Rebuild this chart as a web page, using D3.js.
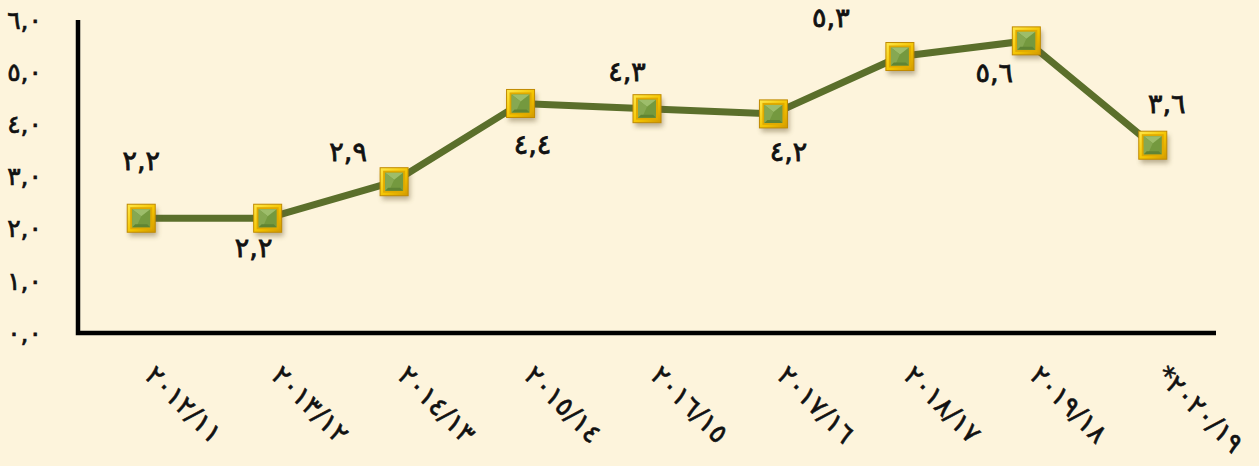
<!DOCTYPE html>
<html>
<head>
<meta charset="utf-8">
<script src="https://cdn.jsdelivr.net/npm/d3@7"></script>
<style>
  html, body { margin: 0; padding: 0; background: #fdf4dc; }
  svg { display: block; }
  text { font-family: "DejaVu Sans", sans-serif; direction: ltr; }
</style>
</head>
<body>
<div id="app"></div>
<script>
const years = ["٢٠١٢/١١", "٢٠١٣/١٢", "٢٠١٤/١٣", "٢٠١٥/١٤", "٢٠١٦/١٥", "٢٠١٧/١٦", "٢٠١٨/١٧", "٢٠١٩/١٨", "*٢٠٢٠/١٩"]
const values = [2.2, 2.2, 2.9, 4.4, 4.3, 4.2, 5.3, 5.6, 3.6]
const yTicks = [0, 1, 2, 3, 4, 5, 6]

// where each value label sits relative to its marker
const labelOffsets = [[0, -58], [-14, 29], [-46, -30], [12, 41], [-20, -37], [15, 38], [-69, -39], [-32, 32], [14, -42]]

const width = 1259, height = 466

const arabicDigits = "٠١٢٣٤٥٦٧٨٩"
const toArabic = s => s.replace(/[0-9]/g, d => arabicDigits[+d]).replace(".", ",")

const x = d3.scaleBand().domain(years).range([78, 1216])
const y = d3.scaleLinear().domain([0, 6]).range([333, 20])

const svg = d3.select("#app").append("svg")
    .attr("width", width)
    .attr("height", height)

const defs = svg.append("defs")
defs.append("filter").attr("id", "shadow")
    .attr("x", "-50%").attr("y", "-50%").attr("width", "200%").attr("height", "200%")
    .append("feGaussianBlur").attr("stdDeviation", 2.5)

const gold = defs.append("linearGradient").attr("id", "gold")
    .attr("x1", 0).attr("y1", 0).attr("x2", 1).attr("y2", 1)
gold.append("stop").attr("offset", "0%").attr("stop-color", "#ffe84a")
gold.append("stop").attr("offset", "55%").attr("stop-color", "#f4c400")
gold.append("stop").attr("offset", "100%").attr("stop-color", "#d29a00")

// y tick labels
svg.append("g")
    .selectAll("text")
    .data(yTicks)
    .join("text")
    .attr("x", 42)
    .attr("y", d => y(d))
    .attr("dy", "0.35em")
    .attr("text-anchor", "end")
    .attr("font-size", 25)
    .attr("letter-spacing", 2)
    .attr("stroke", "#111").attr("stroke-width", 0.7)
    .attr("fill", "#111")
    .text(d => toArabic(d.toFixed(1)))

// axes
svg.append("path")
    .attr("d", d3.line()([[78, y(6)], [78, y(0)], [1216, y(0)]]))
    .attr("fill", "none")
    .attr("stroke", "#000")
    .attr("stroke-width", 4.5)

// x labels
svg.append("g")
    .selectAll("text")
    .data(years)
    .join("text")
    .attr("transform", d => `translate(${x(d) + x.bandwidth() / 2 + 2},${377}) rotate(45)`)
    .attr("font-size", 27)
    .attr("letter-spacing", 5)
    .attr("stroke", "#111").attr("stroke-width", 0.6)
    .attr("fill", "#111")
    .text(d => d)

const pts = years.map((d, i) => [x(d) + x.bandwidth() / 2, y(values[i])])

// line
svg.append("path")
    .attr("d", d3.line()(pts))
    .attr("fill", "none")
    .attr("stroke", "#5b6f2b")
    .attr("stroke-width", 7)
    .attr("stroke-linejoin", "round")

// markers
const s = 14, inner = 9
const marker = svg.append("g")
    .selectAll("g")
    .data(pts)
    .join("g")
    .attr("transform", d => `translate(${d[0]},${d[1]})`)

marker.append("rect")
    .attr("x", -s + 2).attr("y", -s + 4)
    .attr("width", 2 * s).attr("height", 2 * s)
    .attr("fill", "#6b5a30").attr("opacity", 0.45)
    .attr("filter", "url(#shadow)")
marker.append("rect")
    .attr("x", -s).attr("y", -s)
    .attr("width", 2 * s).attr("height", 2 * s)
    .attr("fill", "url(#gold)")
    .attr("stroke", "#c08a00").attr("stroke-width", 1)
marker.append("rect")
    .attr("x", -inner - 2).attr("y", -inner - 2)
    .attr("width", 2 * inner + 4).attr("height", 2 * inner + 4)
    .attr("fill", "#e0aa00")
marker.append("rect")
    .attr("x", -inner).attr("y", -inner)
    .attr("width", 2 * inner).attr("height", 2 * inner)
    .attr("fill", "#74993f")
// bevel facets of the green face
marker.append("path")
    .attr("d", `M${-inner},${-inner}L${inner},${-inner}L0,${-inner + 7}Z`)
    .attr("fill", "#9dbd6b")
marker.append("path")
    .attr("d", `M${-inner},${-inner}L0,${-inner + 7}L${-inner + 4},${inner}L${-inner},${inner}Z`)
    .attr("fill", "#86a852")
marker.append("path")
    .attr("d", `M${-inner},${inner}L${inner},${inner}L${inner - 3},${inner - 3}L${-inner + 3},${inner - 3}Z`)
    .attr("fill", "#5f8434")

// value labels
svg.append("g")
    .selectAll("text")
    .data(values)
    .join("text")
    .attr("x", (d, i) => pts[i][0] + labelOffsets[i][0])
    .attr("y", (d, i) => pts[i][1] + labelOffsets[i][1])
    .attr("dy", "0.35em")
    .attr("text-anchor", "middle")
    .attr("font-size", 27)
    .attr("letter-spacing", 3)
    .attr("stroke", "#111").attr("stroke-width", 0.8)
    .attr("fill", "#111")
    .text(d => toArabic(d.toFixed(1)))
</script>
</body>
</html>
